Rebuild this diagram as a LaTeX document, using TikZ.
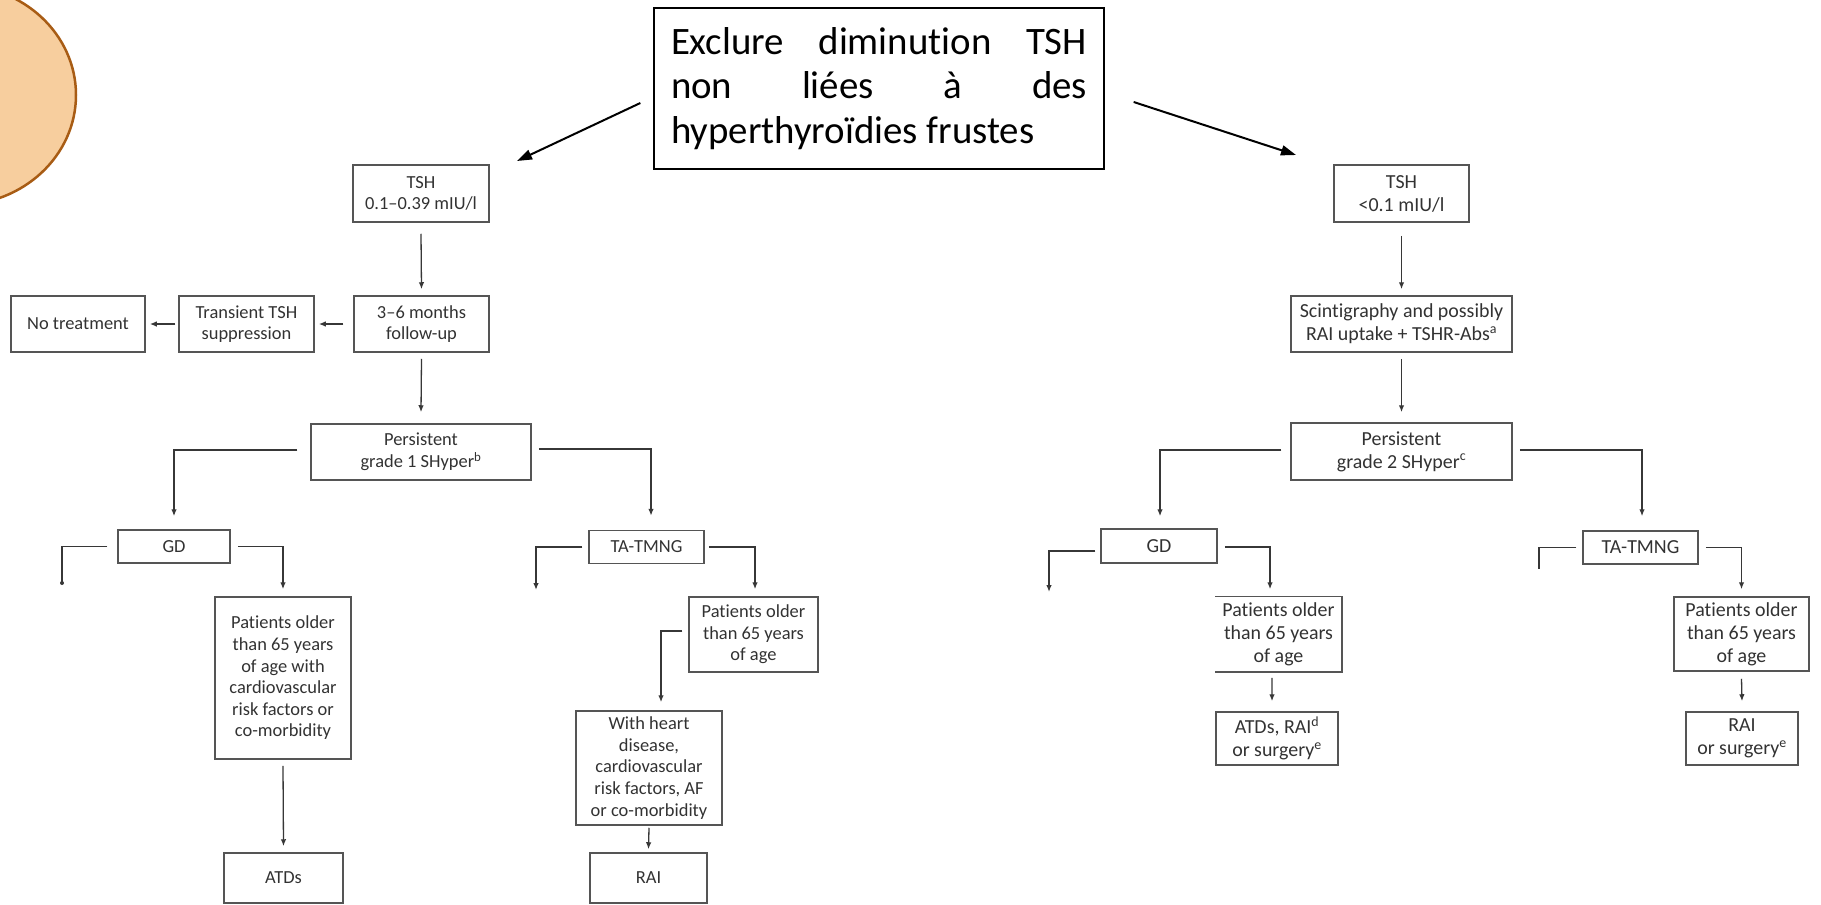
\documentclass[tikz,border=0pt]{standalone}
\usepackage{fontspec}
\setmainfont{Carlito}[Ligatures={NoCommon}]
\usetikzlibrary{arrows.meta}
\definecolor{circfill}{RGB}{247,206,158}
\definecolor{circdraw}{RGB}{168,92,20}
\definecolor{boxgray}{RGB}{85,85,85}
\definecolor{linegray}{RGB}{55,55,55}
\definecolor{txtgray}{RGB}{50,50,50}
\tikzset{
  box/.style={draw=boxgray, line width=1.5bp, text=txtgray, align=center, inner sep=0pt,
    font=\fontsize{18.5}{21.7}\selectfont},
  rbox/.style={box, font=\fontsize{20}{23}\selectfont},
  boxline/.style={draw=boxgray, line width=1.5bp},
  conn/.style={draw=linegray, line width=1.3bp},
  arr/.style={conn, -{Latex[length=7bp,width=5.5bp]}},
  big/.style={draw=black, line width=2bp, -{Triangle[length=15bp,width=10bp]}},
}
\begin{document}
\begin{tikzpicture}[x=1bp,y=-1bp]
\useasboundingbox (0,0) rectangle (1821,905);
\begin{scope}
\clip (0,0) rectangle (1821,905);
\draw[fill=circfill, draw=circdraw, line width=2.5bp] (-42,95) ellipse [x radius=118bp, y radius=110bp];
\end{scope}

% central note
\node[draw=black, line width=1.3bp, minimum width=450bp, minimum height=161bp, inner sep=0pt] (excl) at (879,88.5)
 {\parbox{416bp}{\fontsize{39}{45}\selectfont
   \hbox to 416bp{Exclure\hfill diminution\hfill TSH}
   \hbox to 416bp{non\hfill liées\hfill à\hfill des}
   \hbox{hyperthyroïdies frustes}}};
\coordinate (tipL) at (517,161);
\coordinate (tipR) at (1296,155);
\draw[big] ([xshift=-13bp,yshift=-14.5bp]excl.west) -- (tipL);
\draw[big] ([xshift=29bp,yshift=-13.5bp]excl.east) -- (tipR);

% left tree
\node[box, minimum width=136bp, minimum height=57bp] (tshA) at (421,193.5) {TSH\\0.1–0.39 mIU/l};
\node[box, minimum width=135bp, minimum height=56bp] (fu) at (421.5,324) {3–6 months\\follow-up};
\node[box, minimum width=135bp, minimum height=56bp] (trans) at (246.5,324) {Transient TSH\\suppression};
\node[box, minimum width=134bp, minimum height=56bp] (notr) at (78,324) {No treatment};
\node[box, minimum width=220bp, minimum height=56bp] (pers1) at (421,452) {Persistent\\grade 1 SHyper\textsuperscript{b}};
\node[box, minimum width=112bp, minimum height=33bp] (gd1) at (174,546.5) {GD};
\node[box, minimum width=115bp, minimum height=33bp] (tat1) at (646.5,547) {TA-TMNG};
\node[box, minimum width=136bp, minimum height=162bp] (pog1) at (283,678) {Patients older\\than 65 years\\of age with\\cardiovascular\\risk factors or\\co-morbidity};
\node[box, minimum width=119bp, minimum height=50bp] (atds1) at (283.5,878) {ATDs};
\node[box, minimum width=129bp, minimum height=75bp] (pot1) at (753.5,634.5) {Patients older\\than 65 years\\of age};
\node[box, minimum width=146bp, minimum height=114bp] (heart) at (649,768) {With heart\\disease,\\cardiovascular\\risk factors, AF\\or co-morbidity};
\node[box, minimum width=117bp, minimum height=50bp] (rai1) at (648.5,878) {RAI};

\draw[arr] ([yshift=-11bp]tshA.south) -- ([yshift=6bp]fu.north);
\draw[arr] ([yshift=-6bp]fu.south) -- ([yshift=11bp]pers1.north);
\draw[arr] ([xshift=-10bp]fu.west) -- ([xshift=4bp]trans.east);
\draw[arr] ([xshift=-3bp]trans.west) -- ([xshift=4bp]notr.east);
\draw[arr] ([xshift=-13bp,yshift=2bp]pers1.west) -| ([yshift=13bp]gd1.north);
\draw[arr] ([xshift=7bp,yshift=3bp]pers1.east) -| ([xshift=4.5bp,yshift=14bp]tat1.north);
\coordinate (gdL1) at (62,583);
\draw[conn] ([xshift=-10bp]gd1.west) -| (gdL1);
\fill[linegray] (gdL1) circle (2bp);
\draw[arr] ([xshift=7bp]gd1.east) -| ([yshift=7bp]pog1.north);
\draw[arr] ([yshift=-6bp]pog1.south) -- ([yshift=6bp]atds1.north);
\coordinate (taL1) at (536,590);
\draw[arr] ([xshift=-6bp]tat1.west) -| (taL1);
\draw[arr] ([xshift=4bp]tat1.east) -| ([xshift=1.5bp,yshift=7bp]pot1.north);
\draw[arr] ([xshift=-6bp,yshift=3.5bp]pot1.west) -| ([xshift=12bp,yshift=8bp]heart.north);
\draw[arr] ([yshift=-2bp]heart.south) -- ([yshift=3bp]rai1.north);

% right tree
\node[rbox, minimum width=135bp, minimum height=57bp] (tshB) at (1401.5,193.5) {TSH\\<0.1 mIU/l};
\node[rbox, minimum width=221bp, minimum height=56bp] (scint) at (1401.5,324) {Scintigraphy and possibly\\RAI uptake + TSHR-Abs\textsuperscript{a}};
\node[rbox, minimum width=221bp, minimum height=57bp] (pers2) at (1401.5,451.5) {Persistent\\grade 2 SHyper\textsuperscript{c}};
\node[rbox, minimum width=116bp, minimum height=34bp] (gd2) at (1159,546) {GD};
\node[rbox, minimum width=115bp, minimum height=33bp] (tat2) at (1640.5,547.5) {TA-TMNG};
\node[rbox, draw=none, minimum width=125bp, minimum height=74bp] (pog2) at (1278.5,634) {Patients older\\than 65 years\\of age};
\draw[boxline] (pog2.north west) -- (pog2.north east) -- (pog2.south east) -- (pog2.south west);
\node[rbox, minimum width=122bp, minimum height=53bp] (atds2) at (1277,738.5) {ATDs, RAI\textsuperscript{d}\\or surgery\textsuperscript{e}};
\node[rbox, minimum width=135bp, minimum height=74bp] (pot2) at (1741.5,634) {Patients older\\than 65 years\\of age};
\node[rbox, minimum width=112bp, minimum height=53bp] (rai2) at (1742,738.5) {RAI\\or surgery\textsuperscript{e}};

\draw[arr] ([yshift=-13bp]tshB.south) -- ([yshift=6bp]scint.north);
\draw[arr] ([yshift=-6bp]scint.south) -- ([yshift=10bp]pers2.north);
\draw[arr] ([xshift=-9bp,yshift=1.5bp]pers2.west) -| ([xshift=1bp,yshift=12bp]gd2.north);
\draw[arr] ([xshift=7bp,yshift=1.5bp]pers2.east) -| ([xshift=1.5bp,yshift=14bp]tat2.north);
\coordinate (gdL2) at (1049,592);
\draw[arr] ([xshift=-5bp,yshift=-5bp]gd2.west) -| (gdL2);
\draw[arr] ([xshift=7bp,yshift=-1bp]gd2.east) -| ([xshift=-8.5bp,yshift=7bp]pog2.north);
\draw[arr] ([xshift=-6.5bp,yshift=-6bp]pog2.south) -- ([xshift=-5bp,yshift=10bp]atds2.north);
\coordinate (taL2) at (1539,569);
\draw[conn] ([xshift=-6bp]tat2.west) -| (taL2);
\draw[arr] ([xshift=7bp]tat2.east) -| ([yshift=7bp]pot2.north);
\draw[arr] ([yshift=-7bp]pot2.south) -- ([yshift=10bp]rai2.north);
\end{tikzpicture}
\end{document}
